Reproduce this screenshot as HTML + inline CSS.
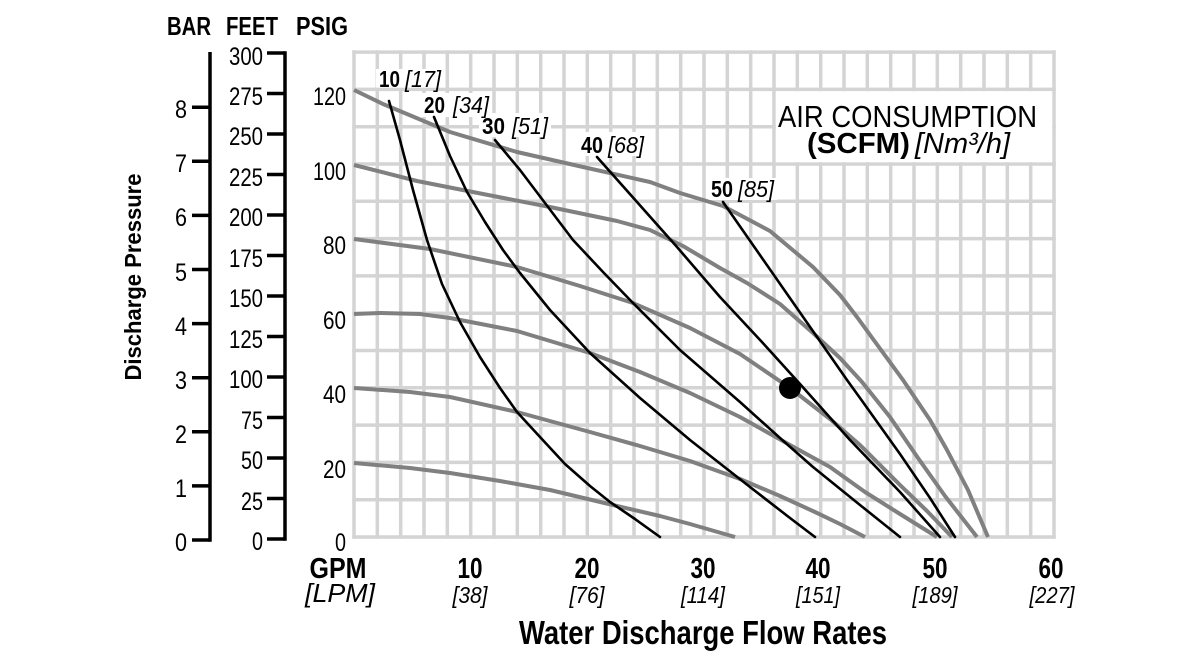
<!DOCTYPE html>
<html><head><meta charset="utf-8"><style>
html,body{margin:0;padding:0;background:#fff;}
svg{display:block;}
text{font-family:"Liberation Sans",Arial,sans-serif;fill:#000;}
.b{font-weight:bold;}
.i{font-style:italic;}
</style></head><body>
<svg width="1200" height="660" viewBox="0 0 1200 660" xmlns="http://www.w3.org/2000/svg">
<rect width="1200" height="660" fill="#fff"/>
<!-- grid -->
<g stroke="#d4d4d4" stroke-width="3.5" stroke-linecap="square" fill="none">
<path d="M354 52V537M377.3 52V537M400.7 52V537M424 52V537M447.3 52V537M470.7 52V537M494 52V537M517.3 52V537M540.7 52V537M564 52V537M587.3 52V537M610.7 52V537M634 52V537M657.3 52V537M680.7 52V537M704 52V537M727.3 52V537M750.7 52V537M774 52V537M797.3 52V537M820.7 52V537M844 52V537M867.3 52V537M890.7 52V537M914 52V537M937.3 52V537M960.7 52V537M984 52V537M1007.3 52V537M1030.7 52V537M1054 52V537"/>
<path d="M354 537H1054M354 499.7H1054M354 462.4H1054M354 425.1H1054M354 387.8H1054M354 350.5H1054M354 313.2H1054M354 275.9H1054M354 238.6H1054M354 201.3H1054M354 164H1054M354 126.7H1054M354 89.4H1054M354 52.1H1054"/>
</g>
<!-- white boxes -->
<g fill="#fff">
<rect x="775.8" y="91.2" width="276.4" height="71"/>
<rect x="376" y="69" width="69" height="18.6"/>
<rect x="421" y="93" width="71" height="24"/>
<rect x="479" y="113" width="72" height="24"/>
<rect x="578" y="132" width="69" height="24"/>
<rect x="708" y="178" width="69" height="22"/>
</g>
<!-- gray curves -->
<g stroke="#808080" stroke-width="4" fill="none" stroke-linejoin="round" stroke-linecap="butt">
<polyline points="354,90 383,104 450,132 517,152 583,167 650,182 680,193 723,206 770,231 813,267 840,295 857,317 873,339 903,380 930,420 947,450 968,490 988,537"/>
<polyline points="354,165 417,181 483,194 550,207 617,221 650,230 683,246 720,268 747,283 780,304 813,333 840,358 862,382 890,417 918,458 945,496 977,537"/>
<polyline points="354,239 430,249 517,267 580,286 633,303 690,328 740,354 790,388 830,419 860,445 900,485 927,511 952,537"/>
<polyline points="354,314 380,313 420,314 450,318 517,331 590,353 640,372 690,393 740,417 790,445 830,467 865,492 900,514 937,537"/>
<polyline points="354,388 410,392 450,397 517,412 590,432 640,446 690,461 740,479 780,496 815,512 840,524 865,537"/>
<polyline points="354,463 410,468 450,473 500,481 550,490 617,506 660,516 690,524 735,537"/>
</g>
<!-- black curves -->
<g stroke="#000" stroke-width="2.6" fill="none" stroke-linejoin="round" stroke-linecap="round">
<polyline points="389,101 400,140 413,190 427,240 442,284 460,322 480,357 500,388 517,412 540,437 565,464 590,486 610,502 635,519 660,537"/>
<polyline points="434,117 450,156 467,192 485,222 503,250 520,273 550,310 590,353 640,398 690,440 750,487 790,518 815,537"/>
<polyline points="495,140 520,170 545,203 573,240 603,272 633,303 680,350 740,402 780,438 813,467 860,505 900,537"/>
<polyline points="597,157 637,202 677,247 720,297 761,341 800,384 850,440 900,492 940,537"/>
<polyline points="723,202 785,291 847,380 860,398 900,454 930,498 955,537"/>
</g>
<circle cx="790" cy="388" r="11" fill="#000"/>
<!-- curve labels -->
<g font-size="23">
<text class="b" x="379" y="87" textLength="21" lengthAdjust="spacingAndGlyphs">10</text>
<text class="i" x="405" y="87" textLength="36" lengthAdjust="spacingAndGlyphs">[17]</text>
<text class="b" x="424" y="113" textLength="21" lengthAdjust="spacingAndGlyphs">20</text>
<text class="i" x="453" y="113" textLength="36" lengthAdjust="spacingAndGlyphs">[34]</text>
<text class="b" x="482" y="134" textLength="23" lengthAdjust="spacingAndGlyphs">30</text>
<text class="i" x="512" y="134" textLength="36" lengthAdjust="spacingAndGlyphs">[51]</text>
<text class="b" x="581" y="153" textLength="22" lengthAdjust="spacingAndGlyphs">40</text>
<text class="i" x="608" y="153" textLength="36" lengthAdjust="spacingAndGlyphs">[68]</text>
<text class="b" x="711" y="197" textLength="22" lengthAdjust="spacingAndGlyphs">50</text>
<text class="i" x="738" y="197" textLength="36" lengthAdjust="spacingAndGlyphs">[85]</text>
</g>
<!-- title -->
<text x="778" y="127" font-size="31" textLength="259" lengthAdjust="spacingAndGlyphs">AIR CONSUMPTION</text>
<text class="b" x="807" y="153" font-size="29" textLength="103" lengthAdjust="spacingAndGlyphs">(SCFM)</text>
<text class="i" x="915" y="153" font-size="29" textLength="95" lengthAdjust="spacingAndGlyphs">[Nm³/h]</text>
<!-- header -->
<g font-size="26">
<text class="b" x="167" y="35" textLength="44" lengthAdjust="spacingAndGlyphs">BAR</text>
<text class="b" x="226" y="35" textLength="52" lengthAdjust="spacingAndGlyphs">FEET</text>
<text class="b" x="296" y="35" textLength="52" lengthAdjust="spacingAndGlyphs">PSIG</text>
</g>
<!-- axes -->
<g stroke="#000" stroke-width="3.5" fill="none">
<path d="M210 52V541.7"/>
<path d="M192 540H210M192 485.9H210M192 431.8H210M192 377.7H210M192 323.6H210M192 269.5H210M192 215.4H210M192 161.3H210M192 107.2H210"/>
<path d="M285 51.3V540.7"/>
<path d="M267 539H285M267 498.5H285M267 458H285M267 417.5H285M267 377H285M267 336.5H285M267 296H285M267 255.5H285M267 215H285M267 174.5H285M267 134H285M267 93.5H285M267 53H285"/>
</g>
<g font-size="25" text-anchor="end">
<text x="187" y="551" textLength="12" lengthAdjust="spacingAndGlyphs">0</text>
<text x="187" y="497" textLength="12" lengthAdjust="spacingAndGlyphs">1</text>
<text x="187" y="443" textLength="12" lengthAdjust="spacingAndGlyphs">2</text>
<text x="187" y="389" textLength="12" lengthAdjust="spacingAndGlyphs">3</text>
<text x="187" y="335" textLength="12" lengthAdjust="spacingAndGlyphs">4</text>
<text x="187" y="281" textLength="12" lengthAdjust="spacingAndGlyphs">5</text>
<text x="187" y="226" textLength="12" lengthAdjust="spacingAndGlyphs">6</text>
<text x="187" y="172" textLength="12" lengthAdjust="spacingAndGlyphs">7</text>
<text x="187" y="118" textLength="12" lengthAdjust="spacingAndGlyphs">8</text>

<text x="263" y="550" textLength="11" lengthAdjust="spacingAndGlyphs">0</text>
<text x="263" y="510" textLength="22" lengthAdjust="spacingAndGlyphs">25</text>
<text x="263" y="469" textLength="22" lengthAdjust="spacingAndGlyphs">50</text>
<text x="263" y="429" textLength="22" lengthAdjust="spacingAndGlyphs">75</text>
<text x="263" y="388" textLength="34" lengthAdjust="spacingAndGlyphs">100</text>
<text x="263" y="348" textLength="34" lengthAdjust="spacingAndGlyphs">125</text>
<text x="263" y="307" textLength="34" lengthAdjust="spacingAndGlyphs">150</text>
<text x="263" y="267" textLength="34" lengthAdjust="spacingAndGlyphs">175</text>
<text x="263" y="226" textLength="34" lengthAdjust="spacingAndGlyphs">200</text>
<text x="263" y="186" textLength="34" lengthAdjust="spacingAndGlyphs">225</text>
<text x="263" y="145" textLength="34" lengthAdjust="spacingAndGlyphs">250</text>
<text x="263" y="105" textLength="34" lengthAdjust="spacingAndGlyphs">275</text>
<text x="263" y="65" textLength="34" lengthAdjust="spacingAndGlyphs">300</text>

<text x="346" y="551" textLength="11" lengthAdjust="spacingAndGlyphs">0</text>
<text x="346" y="478" textLength="23" lengthAdjust="spacingAndGlyphs">20</text>
<text x="346" y="403" textLength="23" lengthAdjust="spacingAndGlyphs">40</text>
<text x="346" y="329" textLength="23" lengthAdjust="spacingAndGlyphs">60</text>
<text x="346" y="254" textLength="23" lengthAdjust="spacingAndGlyphs">80</text>
<text x="346" y="180" textLength="33" lengthAdjust="spacingAndGlyphs">100</text>
<text x="346" y="105" textLength="33" lengthAdjust="spacingAndGlyphs">120</text>
</g>
<!-- y axis title -->
<text class="b" font-size="23" text-anchor="middle" transform="translate(141,277) rotate(-90)" textLength="207" lengthAdjust="spacingAndGlyphs">Discharge Pressure</text>
<!-- x axis labels -->
<g text-anchor="middle">
<text class="b" x="338" y="578" font-size="29" textLength="57" lengthAdjust="spacingAndGlyphs">GPM</text>
<text class="i" x="340" y="602" font-size="26" textLength="70" lengthAdjust="spacingAndGlyphs">[LPM]</text>
<text class="b" x="470" y="578" font-size="29" textLength="25" lengthAdjust="spacingAndGlyphs">10</text>
<text class="b" x="587" y="578" font-size="29" textLength="25" lengthAdjust="spacingAndGlyphs">20</text>
<text class="b" x="703" y="578" font-size="29" textLength="25" lengthAdjust="spacingAndGlyphs">30</text>
<text class="b" x="818" y="578" font-size="29" textLength="25" lengthAdjust="spacingAndGlyphs">40</text>
<text class="b" x="935" y="578" font-size="29" textLength="25" lengthAdjust="spacingAndGlyphs">50</text>
<text class="b" x="1051" y="578" font-size="29" textLength="25" lengthAdjust="spacingAndGlyphs">60</text>
<text class="i" x="470" y="603" font-size="23" textLength="35" lengthAdjust="spacingAndGlyphs">[38]</text>
<text class="i" x="587" y="603" font-size="23" textLength="35" lengthAdjust="spacingAndGlyphs">[76]</text>
<text class="i" x="703" y="603" font-size="23" textLength="44" lengthAdjust="spacingAndGlyphs">[114]</text>
<text class="i" x="818" y="603" font-size="23" textLength="44" lengthAdjust="spacingAndGlyphs">[151]</text>
<text class="i" x="935" y="603" font-size="23" textLength="45" lengthAdjust="spacingAndGlyphs">[189]</text>
<text class="i" x="1052" y="603" font-size="23" textLength="45" lengthAdjust="spacingAndGlyphs">[227]</text>
<text class="b" x="703" y="644" font-size="33" textLength="368" lengthAdjust="spacingAndGlyphs">Water Discharge Flow Rates</text>
</g>
</svg>
</body></html>
